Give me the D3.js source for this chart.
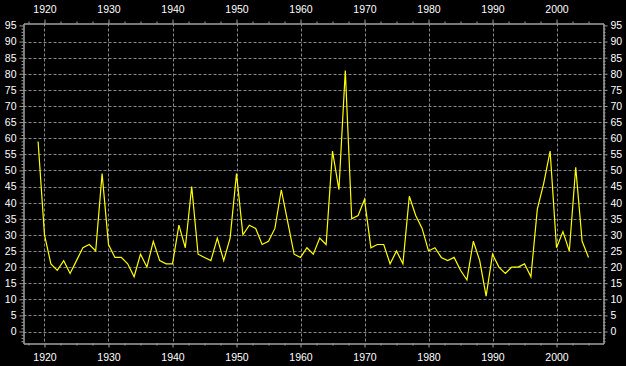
<!DOCTYPE html>
<html>
<head>
<meta charset="utf-8">
<script src="https://cdn.jsdelivr.net/npm/d3@7"></script>
<style>
  html, body { margin: 0; padding: 0; background: #000; }
  svg { display: block; }
</style>
</head>
<body>
<div id="chart"></div>
<script>
const years = d3.range(1919, 2006);
const values = [
  59, 30, 21, 19, 22, 18, 22, 26, 27, 25,
  49, 27, 23, 23, 21, 17, 24, 20, 28, 22,
  21, 21, 33, 26, 45, 24, 23, 22, 29, 22,
  29, 49, 30, 33, 32, 27, 28, 32, 44, 34,
  24, 23, 26, 24, 29, 27, 56, 44, 81, 35,
  36, 41, 26, 27, 27, 21, 25, 21, 42, 36,
  32, 25, 26, 23, 22, 23, 19, 16, 28, 22,
  11, 24, 20, 18, 20, 20, 21, 17, 38, 46,
  56, 26, 31, 25, 51, 28, 23
];
const yearTicks = [1920, 1930, 1940, 1950, 1960, 1970, 1980, 1990, 2000];
const valueTicks = [0, 5, 10, 15, 20, 25, 30, 35, 40, 45, 50, 55, 60, 65, 70, 75, 80, 85, 90, 95];

const width = 626;
const height = 366;
const plot = {left: 23.5, right: 603.5, top: 23.5, bottom: 343.5};

const svg = d3.select('#chart')
  .append('svg')
  .attr('width', width)
  .attr('height', height)
  .style('background', '#000');

const x = d3.scaleLinear()
  .domain([1916.72, 2007.34])
  .range([plot.left, plot.right]);

const y = d3.scaleLinear()
  .domain([-3.72, 95.6])
  .range([plot.bottom, plot.top]);

// grid
svg.append('g')
  .attr('stroke', '#8a8a8a')
  .attr('stroke-dasharray', '3,2')
  .selectAll('line')
  .data(valueTicks.filter(v => v < 95))
  .join('line')
    .attr('x1', plot.left).attr('x2', plot.right)
    .attr('y1', d => Math.round(y(d)) + 0.5)
    .attr('y2', d => Math.round(y(d)) + 0.5);

svg.append('g')
  .attr('stroke', '#8a8a8a')
  .attr('stroke-dasharray', '3,2')
  .selectAll('line')
  .data(yearTicks)
  .join('line')
    .attr('y1', plot.top).attr('y2', plot.bottom)
    .attr('x1', d => Math.round(x(d)) + 0.5)
    .attr('x2', d => Math.round(x(d)) + 0.5);

const minorYears = d3.range(1917.5, 2007, 2.5).filter(d => d % 10 !== 0);
const minorValues = d3.range(-3, 96, 1).filter(d => d % 5 !== 0);

function style(g) {
  g.select('.domain').attr('stroke', '#a0a0a0');
  g.selectAll('.tick line').attr('stroke', '#a0a0a0');
  g.selectAll('text')
    .attr('fill', '#fff')
    .attr('font-family', '"Liberation Sans", Arial, sans-serif')
    .attr('font-size', '10.5px');
}

function axes(axisFn, scale, major, minor, pos, pad) {
  svg.append('g')
    .attr('transform', pos)
    .call(axisFn(scale).tickValues(minor).tickSize(2).tickSizeOuter(0).tickFormat(''))
    .call(style);
  svg.append('g')
    .attr('transform', pos)
    .call(axisFn(scale).tickValues(major).tickSize(4).tickSizeOuter(0).tickPadding(pad).tickFormat(d3.format('d')))
    .call(style);
}

axes(d3.axisLeft, y, valueTicks, minorValues, `translate(${plot.left},0)`, 3);
axes(d3.axisRight, y, valueTicks, minorValues, `translate(${plot.right},0)`, 3);
axes(d3.axisTop, x, yearTicks, minorYears, `translate(0,${plot.top})`, 7);
axes(d3.axisBottom, x, yearTicks, minorYears, `translate(0,${plot.bottom})`, 6);

// line
const line = d3.line()
  .x((d, i) => x(years[i]))
  .y(d => y(d));

svg.append('path')
  .datum(values)
  .attr('fill', 'none')
  .attr('stroke', '#ffff00')
  .attr('stroke-width', 1.2)
  .attr('d', line);
</script>
</body>
</html>
